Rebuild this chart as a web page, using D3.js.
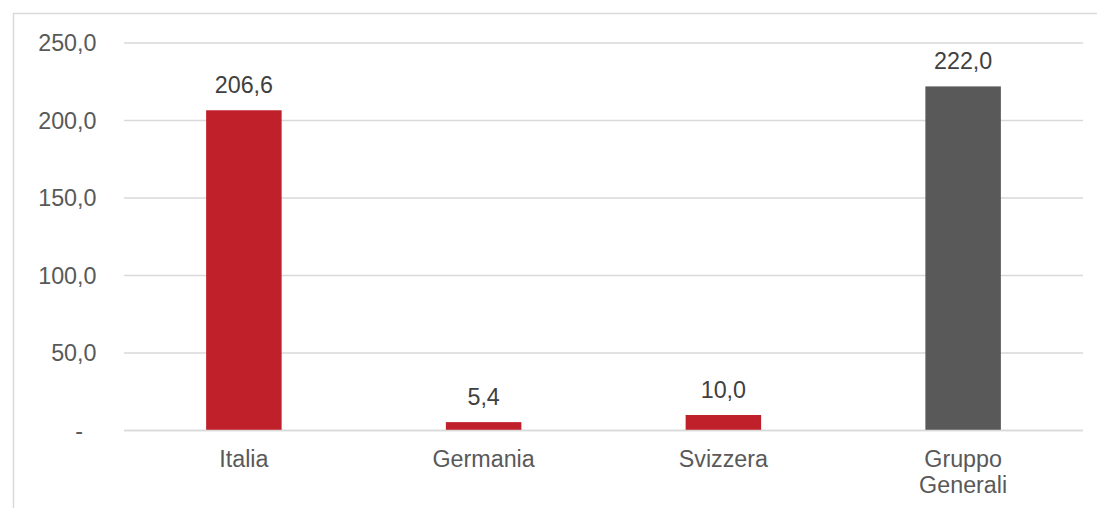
<!DOCTYPE html>
<html>
<head>
<meta charset="utf-8">
<script src="https://cdn.jsdelivr.net/npm/d3@7"></script>
<style>
  html, body { margin: 0; padding: 0; background: #fff; }
  svg { display: block; }
  text { font-family: "Liberation Sans", Arial, sans-serif; }
</style>
</head>
<body>
<svg id="chart" width="1097" height="508"></svg>
<script>
const categories = ["Italia", "Germania", "Svizzera", "Gruppo Generali"];
const values = [206.6, 5.4, 10.0, 222.0];
const valueLabels = ["206,6", "5,4", "10,0", "222,0"];
const barColors = ["#C0202A", "#C0202A", "#C0202A", "#595959"];
const yTicks = [0, 50, 100, 150, 200, 250];
const yTickLabels = ["-", "50,0", "100,0", "150,0", "200,0", "250,0"];

const svg = d3.select("#chart");
const W = 1097, H = 508;
const plot = { left: 124, right: 1083, top: 43, bottom: 430.5 };
const fontSize = 23.3;

// outer border
svg.append("rect")
  .attr("x", 13.5).attr("y", 13.5)
  .attr("width", 1100).attr("height", 520)
  .attr("fill", "none").attr("stroke", "#D9D9D9").attr("stroke-width", 1.5);

const x = d3.scaleBand().domain(categories).range([plot.left, plot.right]).padding(0);
const y = d3.scaleLinear().domain([0, 250]).range([plot.bottom, plot.top]);

// gridlines
svg.append("g").selectAll("line").data(yTicks).join("line")
  .attr("x1", plot.left).attr("x2", plot.right)
  .attr("y1", d => y(d)).attr("y2", d => y(d))
  .attr("stroke", "#D9D9D9").attr("stroke-width", 1.3);

// y tick labels
svg.append("g").selectAll("text").data(yTicks).join("text")
  .attr("x", (d, i) => yTickLabels[i] === "-" ? 83 : 96.5)
  .attr("y", d => y(d))
  .attr("dy", "0.36em")
  .attr("text-anchor", "end")
  .attr("fill", "#595959")
  .attr("font-size", fontSize)
  .text((d, i) => yTickLabels[i]);

// bars
const barW = 75.5;
svg.append("g").selectAll("rect").data(values).join("rect")
  .attr("x", (d, i) => x(categories[i]) + x.bandwidth() / 2 - barW / 2)
  .attr("y", d => y(d))
  .attr("width", barW)
  .attr("height", d => y(0) - y(d))
  .attr("fill", (d, i) => barColors[i]);

// baseline redraw on top
svg.append("line")
  .attr("x1", plot.left).attr("x2", plot.right)
  .attr("y1", y(0)).attr("y2", y(0))
  .attr("stroke", "#D9D9D9").attr("stroke-width", 1.3);

// value labels
svg.append("g").selectAll("text").data(values).join("text")
  .attr("x", (d, i) => x(categories[i]) + x.bandwidth() / 2)
  .attr("y", d => y(d) - 17.5)
  .attr("text-anchor", "middle")
  .attr("fill", "#404040")
  .attr("font-size", fontSize)
  .text((d, i) => valueLabels[i]);

// category labels
const catG = svg.append("g");
categories.forEach((c, i) => {
  const words = c === "Gruppo Generali" ? ["Gruppo", "Generali"] : [c];
  const t = catG.append("text")
    .attr("x", x(c) + x.bandwidth() / 2)
    .attr("y", 467.3)
    .attr("text-anchor", "middle")
    .attr("fill", "#595959")
    .attr("font-size", fontSize);
  words.forEach((w, j) => {
    t.append("tspan")
      .attr("x", x(c) + x.bandwidth() / 2)
      .attr("dy", j === 0 ? 0 : 25.5)
      .text(w);
  });
});
</script>
</body>
</html>
